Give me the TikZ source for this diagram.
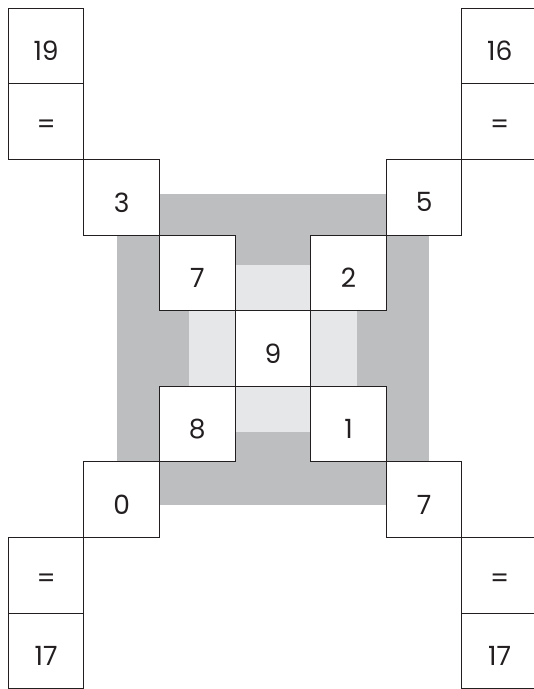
\documentclass[tikz,border=0pt]{standalone}
\usepackage{fontspec}
\setmainfont{Poppins}
\definecolor{darkfill}{HTML}{BCBEC0}
\definecolor{lightfill}{HTML}{E6E7E8}
\definecolor{ink}{HTML}{231F20}
\tikzset{
  cell/.style={draw=ink, line width=1pt, fill=white, minimum width=75.6pt, minimum height=75.6pt, inner sep=0pt, outer sep=0pt, anchor=north west},
  lbl/.style={text=ink, font=\fontsize{26.5}{30}\selectfont, inner sep=0pt}
}
\newcommand{\cellat}[4]{%
  \node[cell] (#1) at ({8.3+75.6*#2},{8.3+75.6*#3}) {};
  \node[lbl] (#1t) at ([yshift=-5pt]#1.center) {#4};
}
\begin{document}
\begin{tikzpicture}[x=1pt,y=-1pt]
\useasboundingbox (0,0) rectangle (534,689);
\fill[white] (0,0) rectangle (534,689);
% dark cross
\fill[darkfill] (159.5,194) rectangle (386.3,505);
\fill[darkfill] (117.3,235.1) rectangle (428.5,461.9);
% light cross
\fill[lightfill] (235.1,265) rectangle (310.7,432);
\fill[lightfill] (188.9,310.7) rectangle (356.9,386.3);
% cells
\cellat{a}{0}{0}{19}
\cellat{b}{0}{1}{=}
\cellat{c}{1}{2}{3}
\cellat{d}{2}{3}{7}
\cellat{e}{4}{3}{2}
\cellat{f}{3}{4}{9}
\cellat{g}{2}{5}{8}
\cellat{h}{4}{5}{1}
\cellat{i}{5}{2}{5}
\cellat{j}{6}{0}{16}
\cellat{k}{6}{1}{=}
\cellat{l}{1}{6}{0}
\cellat{m}{0}{7}{=}
\cellat{n}{0}{8}{17}
\cellat{o}{5}{6}{7}
\cellat{p}{6}{7}{=}
\cellat{q}{6}{8}{17}
\end{tikzpicture}
\end{document}
